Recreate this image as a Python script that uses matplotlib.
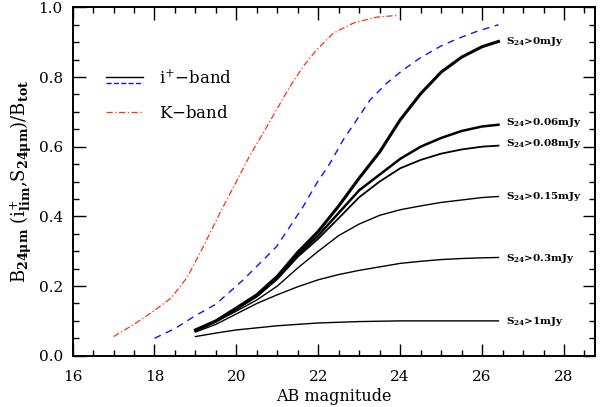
import numpy as np
import matplotlib
matplotlib.use("Agg")
from matplotlib import pyplot as plt
from matplotlib.lines import Line2D
from matplotlib.legend_handler import HandlerBase
from matplotlib.ticker import MultipleLocator

plt.rcParams['font.family'] = 'DejaVu Serif'
plt.rcParams['mathtext.fontset'] = 'dejavuserif'

# K-band curve (red dash-dot)
k_mag = [17.0, 17.5, 18.0, 18.4, 18.8, 19.2, 19.6, 20.0, 20.33, 20.65, 20.98, 21.31, 21.63, 21.96, 22.37, 22.86, 23.43, 23.96]
k_frac = [0.055, 0.09, 0.13, 0.165, 0.225, 0.315, 0.41, 0.5, 0.575, 0.638, 0.706, 0.773, 0.83, 0.878, 0.926, 0.955, 0.972, 0.977]

# i+-band total (blue dashed)
i_mag = [18.0, 18.5, 19.0, 19.5, 20.16, 20.57, 20.98, 21.31, 21.63, 21.96, 22.29, 22.61, 22.94, 23.27, 23.67, 24.08, 24.49, 24.98, 25.4, 25.85, 26.4]
i_frac = [0.05, 0.078, 0.115, 0.148, 0.217, 0.265, 0.313, 0.371, 0.428, 0.495, 0.553, 0.62, 0.677, 0.735, 0.782, 0.821, 0.855, 0.888, 0.91, 0.93, 0.95]

# 24 micron cuts (black)
s_mag = [19.0, 19.5, 20.0, 20.5, 21.0, 21.5, 22.0, 22.5, 23.0, 23.5, 24.0, 24.5, 25.0, 25.5, 26.0, 26.4]
s_frac = {
    "0": [0.074, 0.1, 0.137, 0.175, 0.228, 0.297, 0.357, 0.43, 0.51, 0.585, 0.677, 0.752, 0.814, 0.857, 0.887, 0.902],
    "0.06": [0.073, 0.099, 0.135, 0.172, 0.224, 0.29, 0.345, 0.41, 0.475, 0.52, 0.565, 0.6, 0.625, 0.645, 0.658, 0.663],
    "0.08": [0.072, 0.098, 0.133, 0.17, 0.22, 0.284, 0.336, 0.395, 0.455, 0.5, 0.538, 0.562, 0.58, 0.592, 0.6, 0.603],
    "0.15": [0.07, 0.097, 0.128, 0.16, 0.2, 0.252, 0.3, 0.345, 0.378, 0.403, 0.419, 0.43, 0.44, 0.447, 0.454, 0.457],
    "0.3": [0.068, 0.09, 0.12, 0.15, 0.175, 0.198, 0.218, 0.233, 0.245, 0.255, 0.265, 0.271, 0.276, 0.279, 0.281, 0.282],
    "1": [0.055, 0.065, 0.074, 0.08, 0.086, 0.09, 0.094, 0.096, 0.098, 0.099, 0.1, 0.1, 0.1, 0.1, 0.1, 0.1],
}
s_width = {"0": 2.2, "0.06": 1.8, "0.08": 1.3, "0.15": 1.0, "0.3": 1.0, "1": 1.0}
label_y = {"0": 0.902, "0.06": 0.668, "0.08": 0.608, "0.15": 0.457, "0.3": 0.278, "1": 0.098}


class TwoLines(HandlerBase):
    def create_artists(self, legend, orig_handle, xdescent, ydescent,
                       width, height, fontsize, trans):
        out = []
        for h, yy in zip(orig_handle, [height * 0.6, height * 0.05]):
            l = Line2D([-xdescent, -xdescent + width], [yy - ydescent, yy - ydescent],
                       color=h.get_color(), linestyle=h.get_linestyle(),
                       linewidth=h.get_linewidth(), transform=trans)
            out.append(l)
        return out


fig = plt.figure(figsize=(6.15, 4.07), dpi=100)
ax = fig.add_axes([0.118, 0.126, 0.849, 0.856])

red, = ax.plot(k_mag, k_frac, color='#ff3010', linestyle=(0, (5, 2, 1, 2)), linewidth=0.9)
blue, = ax.plot(i_mag, i_frac, color='#1010ff', linestyle=(0, (5, 4)), linewidth=1.0)
for key in s_frac:
    ax.plot(s_mag, s_frac[key], color='black', linewidth=s_width[key])
    ax.text(26.58, label_y[key], r'S$_{\mathbf{24}}$>' + key + 'mJy', fontsize=7.5,
            fontweight='bold', va='center', ha='left')

black = Line2D([], [], color='black', linewidth=1.0)
leg = ax.legend([(black, blue), red], [r'i$^{+}$$-$band', r'K$-$band'],
                handler_map={tuple: TwoLines()}, loc='upper left',
                bbox_to_anchor=(0.035, 0.865), frameon=False, fontsize=12,
                handlelength=2.2, handletextpad=1.0, labelspacing=1.0)

ax.set_xlim(16, 28.75)
ax.set_ylim(0, 1)
ax.xaxis.set_major_locator(MultipleLocator(2))
ax.xaxis.set_minor_locator(MultipleLocator(0.5))
ax.yaxis.set_major_locator(MultipleLocator(0.2))
ax.yaxis.set_minor_locator(MultipleLocator(0.05))
ax.tick_params(which='both', direction='in', top=True, right=True, labelsize=11, width=1.0)
ax.tick_params(axis='x', which='major', pad=10)
ax.tick_params(axis='y', which='major', pad=7)
ax.tick_params(which='major', length=9)
ax.tick_params(which='minor', length=4.5)
for sp in ax.spines.values():
    sp.set_linewidth(1.4)

ax.set_xlabel('AB magnitude', fontsize=11.5, labelpad=3)
ax.set_ylabel(r'B$_{\mathbf{24\mu m}}$ (i$^{+}_{\mathbf{lim}}$,S$_{\mathbf{24\mu m}}$)/B$_{\mathbf{tot}}$',
              fontsize=13, labelpad=3)

fig.savefig('out.png', dpi=100)
